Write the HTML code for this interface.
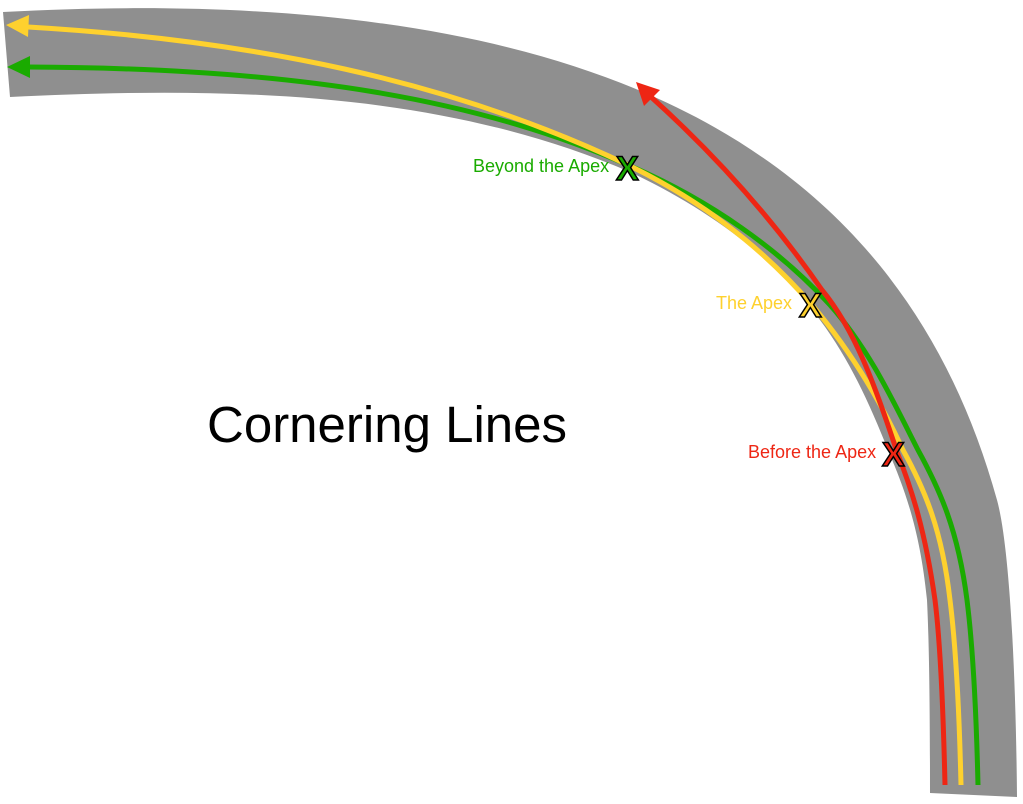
<!DOCTYPE html>
<html><head><meta charset="utf-8"><style>
html,body{margin:0;padding:0;background:#fff;}
svg{display:block;}
text{font-family:"Liberation Sans",sans-serif;}
</style></head><body>
<svg width="1023" height="804" viewBox="0 0 1023 804" xmlns="http://www.w3.org/2000/svg">
<path d="M3,12 C600,-20 900,150 997,500 C1010,547 1016,680 1017,797 L930,793 C930,700 929,640 927,600 C920,530 905,490 888,450 C870,405 850,360 820,320 C775,258 710,210 630,172 C450,95 250,85 10,97 Z" fill="#8f8f8f"/>
<g fill="none" stroke-width="5">
<path d="M978,785 C976,700 972,640 967,600 C958,530 940,490 918,450 C895,405 870,350 830,305 C780,250 710,200 628,165 C480,100 300,68 28,67" stroke="#1aab00"/>
<path d="M961,785 C959,700 955,640 950,600 C942,530 925,490 903,450 C880,400 850,350 812,305 C760,245 700,200 628,165 C450,80 250,40 28,27" stroke="#fed12e"/>
<path d="M945,785 C943,700 940,640 935,600 C925,530 912,490 897,452 C875,385 855,330 822,290 C770,215 710,150 650,96" stroke="#ee2614"/>
</g>
<polygon points="6,25 29,15 28,37" fill="#fed12e"/>
<polygon points="7,67 30,56 30,78" fill="#1aab00"/>
<polygon points="636,82 660,90 644,106" fill="#ee2614"/>
<g font-size="18">
<text x="473" y="172" fill="#1aab00">Beyond the Apex</text>
<text x="716" y="309" fill="#fed12e">The Apex</text>
<text x="748" y="458" fill="#ee2614">Before the Apex</text>
</g>
<g font-size="34" font-weight="bold" stroke="#000" stroke-width="1.5">
<text x="616" y="180" fill="#1aab00">X</text>
<text x="799" y="317" fill="#fed12e">X</text>
<text x="882" y="466" fill="#ee2614">X</text>
</g>
<text x="207" y="442" font-size="51" fill="#000">Cornering Lines</text>
</svg>
</body></html>
